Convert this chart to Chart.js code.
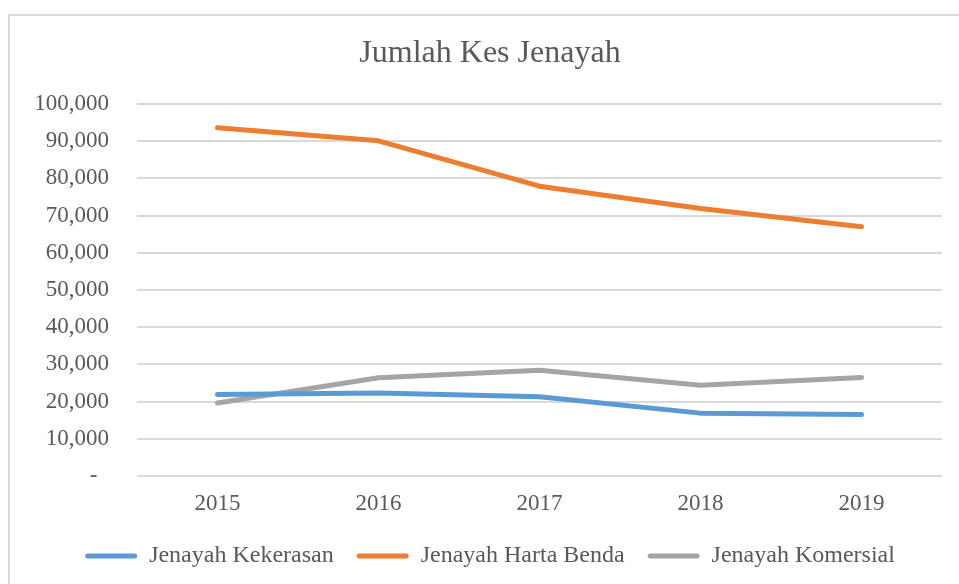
<!DOCTYPE html>
<html>
<head>
<meta charset="utf-8">
<script src="https://cdn.jsdelivr.net/npm/chart.js@4.4.1/dist/chart.umd.min.js"></script>
<style>
   body { margin: 0; background: #fff; overflow: hidden; }
   .frame { position: absolute; left: 8px; top: 14px; width: 1000px; height: 1000px;
            border-left: 2px solid #d9d9d9; border-top: 2px solid #d9d9d9; }
   #crimeChart { position: absolute; left: 0; top: 0; }
</style>
</head>
<body>
<div class="frame"></div>
<canvas id="crimeChart" width="980" height="584"></canvas>
<script>
// data
const years = ['2015', '2016', '2017', '2018', '2019'];
const kekerasan = [21900, 22300, 21300, 16900, 16500];
const hartaBenda = [93600, 90100, 77900, 71900, 67000];
const komersial = [19600, 26400, 28400, 24400, 26500];
const seriesNames = ['Jenayah Kekerasan', 'Jenayah Harta Benda', 'Jenayah Komersial'];
const seriesColors = ['#5b9bd5', '#ed7d31', '#a5a5a5'];

const fontFam = "'Liberation Serif', 'Times New Roman', serif";
const textColor = '#595959';

function makeSet(i, values) {
   return {
      label: seriesNames[i],
      data: values,
      borderColor: seriesColors[i],
      backgroundColor: seriesColors[i],
      borderWidth: 5,
      borderCapStyle: 'round',
      borderJoinStyle: 'round',
      pointRadius: 0,
      pointHoverRadius: 0,
      tension: 0,
      fill: false
   };
}

const ctx = document.getElementById('crimeChart').getContext('2d');
new Chart(ctx, {
   type: 'line',
   data: {
      labels: years,
      datasets: [makeSet(0, kekerasan), makeSet(1, hartaBenda), makeSet(2, komersial)]
   },
   options: {
      responsive: false,
      animation: false,
      devicePixelRatio: 1,
      layout: { padding: { left: 0, right: 0, top: 0, bottom: 6 } },
      scales: {
         x: {
            offset: true,
            afterFit: scale => { scale.height = 45; },
            grid: { display: false, drawTicks: false },
            border: { display: false },
            ticks: { color: textColor, font: { family: fontFam, size: 23 }, padding: 14 }
         },
         y: {
            min: 0,
            max: 100000,
            afterFit: scale => { scale.width = 137; },
            grid: { color: '#d9d9d9', lineWidth: 2, drawTicks: false },
            border: { display: false },
            ticks: {
               stepSize: 10000,
               color: textColor,
               padding: 28,
               font: { family: fontFam, size: 23 },
               callback: v => v === 0 ? '-  ' : v.toLocaleString('en-US')
            }
         },
         // empty right axis, only keeps space so the plot ends where the original does
         yRight: {
            position: 'right',
            afterFit: scale => { scale.width = 38; },
            grid: { display: false, drawTicks: false },
            border: { display: false },
            ticks: { display: false }
         }
      },
      plugins: {
         title: {
            display: true,
            text: 'Jumlah Kes Jenayah',
            color: textColor,
            font: { family: fontFam, size: 32, weight: 'normal' },
            padding: { top: 34, bottom: 31.6 }
         },
         legend: {
            position: 'bottom',
            labels: {
               color: textColor,
               font: { family: fontFam, size: 24 },
               boxWidth: 52,
               boxHeight: 5,
               padding: 23,
               useBorderRadius: true,
               borderRadius: 2.5,
               generateLabels: chart =>
                  Chart.defaults.plugins.legend.labels.generateLabels(chart).map(l =>
                     Object.assign(l, { lineWidth: 0, fillStyle: l.strokeStyle }))
            }
         },
         tooltip: { enabled: false }
      }
   }
});
</script>
</body>
</html>
